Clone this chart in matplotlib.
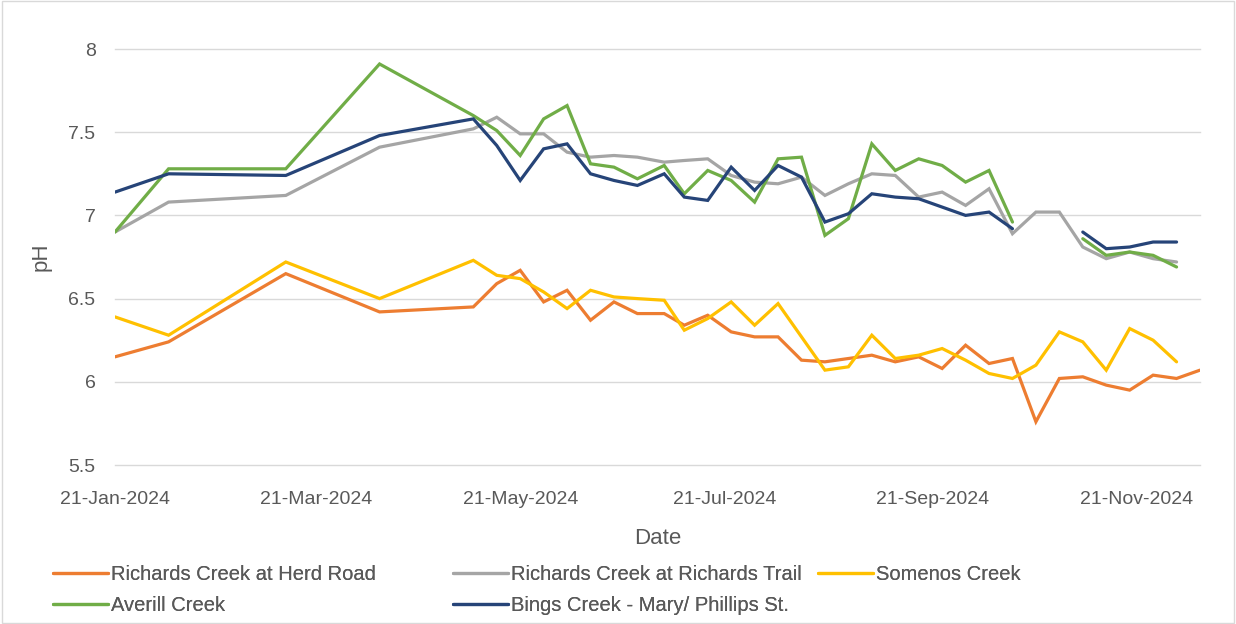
#!/usr/bin/env python3
"""
pH by sampling date for five creeks (Excel-style line chart).
"""

import numpy as np
import pandas as pd
import matplotlib
matplotlib.use('Agg')
import matplotlib.pyplot as plt
import matplotlib.dates as mdates
from matplotlib.ticker import FuncFormatter
from matplotlib.patches import Rectangle

plt.rcParams['font.family'] = ['Liberation Sans', 'DejaVu Sans']

nan = np.nan

# Sampling dates
dates = pd.to_datetime([
    '2024-01-21', '2024-02-06', '2024-03-12', '2024-04-09', '2024-05-07',
    '2024-05-14', '2024-05-21', '2024-05-28', '2024-06-04', '2024-06-11',
    '2024-06-18', '2024-06-25', '2024-07-03', '2024-07-09', '2024-07-16',
    '2024-07-23', '2024-07-30', '2024-08-06', '2024-08-13', '2024-08-20',
    '2024-08-27', '2024-09-03', '2024-09-10', '2024-09-17', '2024-09-24',
    '2024-10-01', '2024-10-08', '2024-10-15', '2024-10-22', '2024-10-29',
    '2024-11-05', '2024-11-12', '2024-11-19', '2024-11-26', '2024-12-03',
    '2024-12-10',
])

herd_road = [6.15, 6.24, 6.65, 6.42, 6.45, 6.59, 6.67, 6.48, 6.55, 6.37,
             6.48, 6.41, 6.41, 6.34, 6.40, 6.30, 6.27, 6.27, 6.13, 6.12,
             6.14, 6.16, 6.12, 6.15, 6.08, 6.22, 6.11, 6.14, 5.76, 6.02,
             6.03, 5.98, 5.95, 6.04, 6.02, 6.07]

richards_trail = [6.90, 7.08, 7.12, 7.41, 7.52, 7.59, 7.49, 7.49, 7.38, 7.35,
                  7.36, 7.35, 7.32, 7.33, 7.34, 7.24, 7.20, 7.19, 7.23, 7.12,
                  7.19, 7.25, 7.24, 7.11, 7.14, 7.06, 7.16, 6.89, 7.02, 7.02,
                  6.81, 6.74, 6.78, 6.74, 6.72, nan]

somenos = [6.39, 6.28, 6.72, 6.50, 6.73, 6.64, 6.62, 6.54, 6.44, 6.55,
           6.51, 6.50, 6.49, 6.31, 6.38, 6.48, 6.34, 6.47, 6.27, 6.07,
           6.09, 6.28, 6.14, 6.16, 6.20, 6.13, 6.05, 6.02, 6.10, 6.30,
           6.24, 6.07, 6.32, 6.25, 6.12, nan]

averill = [6.90, 7.28, 7.28, 7.91, 7.60, 7.51, 7.36, 7.58, 7.66, 7.31,
           7.29, 7.22, 7.30, 7.13, 7.27, 7.21, 7.08, 7.34, 7.35, 6.88,
           6.98, 7.43, 7.27, 7.34, 7.30, 7.20, 7.27, 6.96, nan, nan,
           6.86, 6.76, 6.78, 6.76, 6.69, nan]

bings = [7.14, 7.25, 7.24, 7.48, 7.58, 7.42, 7.21, 7.40, 7.43, 7.25,
         7.21, 7.18, 7.25, 7.11, 7.09, 7.29, 7.15, 7.30, 7.23, 6.96,
         7.01, 7.13, 7.11, 7.10, 7.05, 7.00, 7.02, 6.92, nan, nan,
         6.90, 6.80, 6.81, 6.84, 6.84, nan]

tick_dates = pd.to_datetime(['2024-01-21', '2024-03-21', '2024-05-21',
                             '2024-07-21', '2024-09-21', '2024-11-21'])

series = [
    ('Richards Creek at Herd Road', herd_road, '#ED7D31'),
    ('Richards Creek at Richards Trail', richards_trail, '#A5A5A5'),
    ('Somenos Creek', somenos, '#FFC000'),
    ('Averill Creek', averill, '#70AD47'),
    ('Bings Creek - Mary/ Phillips St.', bings, '#264478'),
]

fig = plt.figure(figsize=(12.36, 6.24), dpi=100)
ax = fig.add_axes([115 / 1236, 1 - 465 / 624, (1200 - 115) / 1236, (465 - 49) / 624])

lines = {}
for name, vals, color in series:
    ln, = ax.plot(dates, vals, color=color, linewidth=2.3, label=name,
                  solid_joinstyle='miter', solid_capstyle='round')
    lines[name] = ln

ax.set_ylim(5.5, 8)
ax.set_yticks([5.5, 6, 6.5, 7, 7.5, 8])
ax.yaxis.set_major_formatter(FuncFormatter(lambda v, p: f'{v:g}'))
ax.set_xlim(dates[0], dates[-1])
ax.set_xticks(tick_dates)
ax.xaxis.set_major_formatter(mdates.DateFormatter('%d-%b-%Y'))

ax.grid(axis='y', color='#d9d9d9', linewidth=1.0)
for gl in ax.get_ygridlines():
    gl.set_clip_on(False)
ax.set_axisbelow(True)
for s in ax.spines.values():
    s.set_visible(False)
ax.tick_params(length=0, labelsize=14, labelcolor='#595959')
ax.tick_params(axis='x', pad=19)
ax.tick_params(axis='y', pad=14)

ax.set_xlabel('Date', fontsize=16, color='#595959', labelpad=14)
ax.set_ylabel('pH', fontsize=16, color='#595959', labelpad=12)

# legend: Excel puts entries row by row at fixed column positions,
# so build one legend per column
legend_cols = [
    (['Richards Creek at Herd Road', 'Averill Creek'], 53),
    (['Richards Creek at Richards Trail', 'Bings Creek - Mary/ Phillips St.'], 453),
    (['Somenos Creek'], 818),
]
for names, x0 in legend_cols:
    leg = fig.legend([lines[n] for n in names], names, frameon=False,
                     loc='upper left', bbox_to_anchor=(x0 / 1236, 1 - 565 / 624),
                     fontsize=14.5, labelcolor='#595959', handlelength=2.75,
                     handletextpad=0.15, labelspacing=0.6, borderaxespad=0,
                     borderpad=0)
    fig.add_artist(leg)

fig.patches.append(Rectangle((0.002, 0.002), 0.996, 0.996, transform=fig.transFigure,
                             fill=False, edgecolor='#d9d9d9', linewidth=1))

fig.savefig('out.png', dpi=100, facecolor='white')
